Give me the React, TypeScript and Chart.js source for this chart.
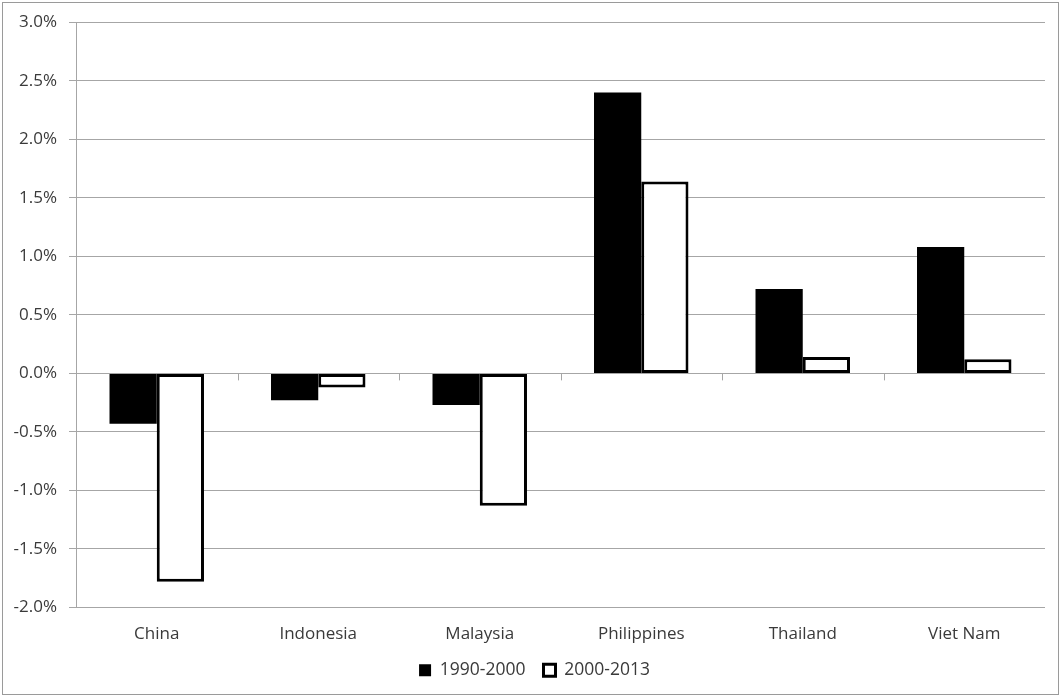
import React, { useEffect, useRef } from 'react';
import Chart from 'chart.js/auto';

const countries = ['China', 'Indonesia', 'Malaysia', 'Philippines', 'Thailand', 'Viet Nam'];
const period1990 = [-0.43, -0.23, -0.27, 2.4, 0.72, 1.08];
const period2000 = [-1.78, -0.12, -1.13, 1.64, 0.14, 0.12];
const seriesNames = ['1990-2000', '2000-2013'];

const FONT = '"Open Sans", sans-serif';
const GRID = '#a6a6a6';

// category tick marks sit on the zero line, like the original spreadsheet chart
const zeroTicks = {
  id: 'zeroTicks',
  beforeDatasetsDraw(chart: any) {
    const x = chart.scales.x;
    const y = chart.scales.y;
    const y0 = y.getPixelForValue(0);
    const n = countries.length;
    const step = (x.right - x.left) / n;
    const ctx = chart.ctx;
    ctx.save();
    ctx.strokeStyle = GRID;
    ctx.lineWidth = 1;
    for (let i = 1; i < n; i++) {
      const px = Math.round(x.left + i * step) + 0.5;
      ctx.beginPath();
      ctx.moveTo(px, y0);
      ctx.lineTo(px, y0 + 7);
      ctx.stroke();
    }
    ctx.restore();
  },
};

// legend is centred on the whole frame in the original, a bit right of the plot centre
const legendShift = {
  id: 'legendShift',
  afterLayout(chart: any) {
    if (chart.legend) chart.legend.left += 24;
  },
};

const frame = {
  id: 'frame',
  afterDraw(chart: any) {
    const ctx = chart.ctx;
    ctx.save();
    ctx.strokeStyle = '#9a9a9a';
    ctx.lineWidth = 1;
    ctx.strokeRect(2.5, 2.5, chart.width - 5, chart.height - 4);
    ctx.restore();
  },
};

const App: React.FC = () => {
  const canvasRef = useRef<HTMLCanvasElement>(null);
  const chartRef = useRef<Chart | null>(null);

  useEffect(() => {
    if (!canvasRef.current) return;
    if (chartRef.current) chartRef.current.destroy();

    chartRef.current = new Chart(canvasRef.current, {
      type: 'bar',
      data: {
        labels: countries,
        datasets: [
          {
            label: seriesNames[0],
            data: period1990,
            backgroundColor: '#000000',
            borderWidth: 0,
            categoryPercentage: 0.585,
            barPercentage: 1,
          },
          {
            label: seriesNames[1],
            data: period2000,
            backgroundColor: '#ffffff',
            borderColor: '#000000',
            borderWidth: 3,
            borderSkipped: false,
            categoryPercentage: 0.585,
            barPercentage: 1,
          },
        ],
      },
      options: {
        responsive: true,
        maintainAspectRatio: false,
        animation: false,
        layout: { padding: { top: 22, right: 16, bottom: 7, left: 0 } },
        plugins: {
          legend: {
            position: 'bottom',
            labels: {
              boxWidth: 12,
              boxHeight: 12,
              padding: 18,
              color: '#3a3a3a',
              font: { family: FONT, size: 17.5 },
            },
          },
          tooltip: { enabled: false },
        },
        scales: {
          x: {
            afterFit: (scale: any) => {
              scale.height = 36;
            },
            grid: { display: false, drawTicks: false },
            border: { display: false },
            ticks: { color: '#3a3a3a', padding: 16, font: { family: FONT, size: 17 } },
          },
          y: {
            min: -2,
            max: 3,
            afterFit: (scale: any) => {
              scale.width = 76;
            },
            grid: { color: GRID, tickLength: 7 },
            border: { color: GRID },
            ticks: {
              stepSize: 0.5,
              padding: 12,
              color: '#3a3a3a',
              font: { family: FONT, size: 17 },
              callback: (v: any) => Number(v).toFixed(1) + '%',
            },
          },
        },
      },
      plugins: [zeroTicks, legendShift, frame],
    });

    return () => {
      if (chartRef.current) {
        chartRef.current.destroy();
        chartRef.current = null;
      }
    };
  }, []);

  return (
    <div style={{ position: 'fixed', left: 0, top: 0, width: 1061, height: 696, background: '#fff' }}>
      <canvas ref={canvasRef} />
    </div>
  );
};

export default App;
